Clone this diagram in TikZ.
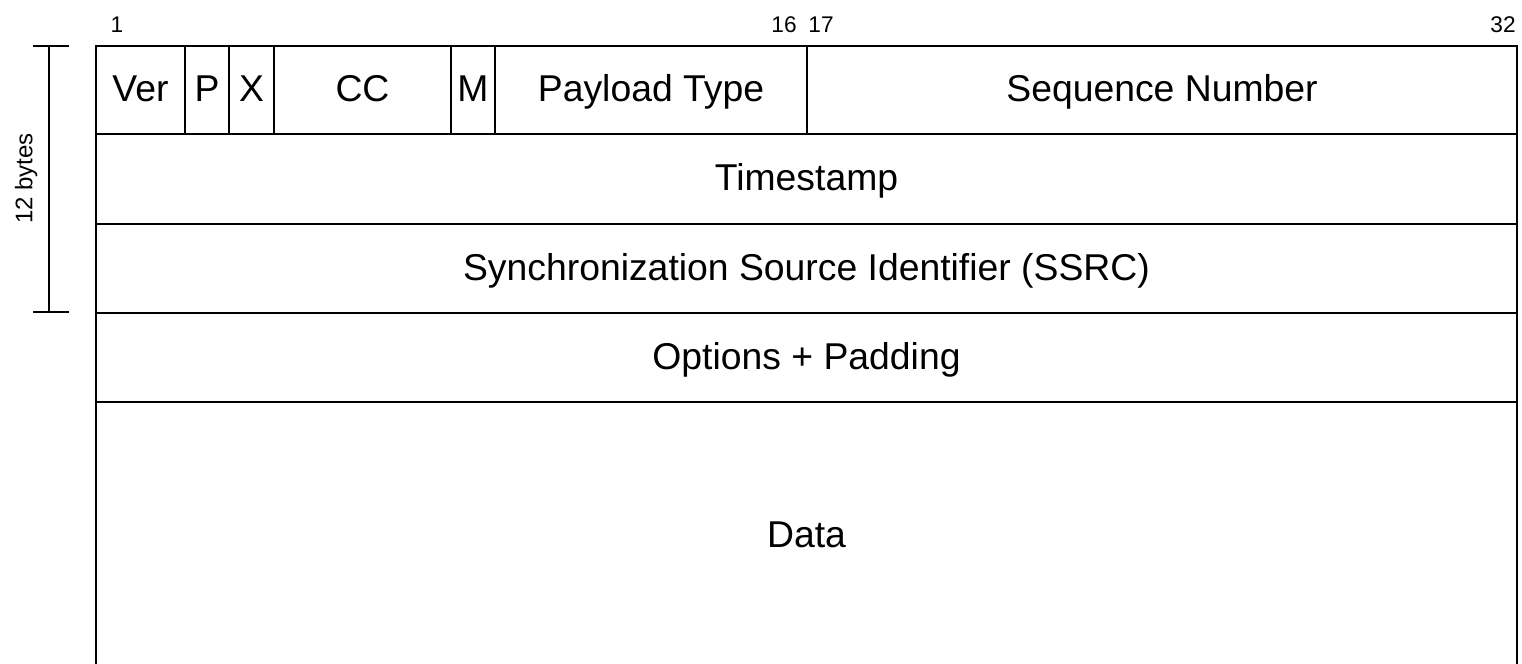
\documentclass[tikz,border=0pt]{standalone}
\usepackage{fontspec}
\setmainfont{Liberation Sans}
\usetikzlibrary{calc}
\begin{document}
\begin{tikzpicture}[x=0.75pt, y=-0.75pt,
  cell/.style 2 args={draw, line width=1.5pt, inner sep=0pt, outer sep=0pt,
    minimum width=#1, minimum height=#2,
    font=\fontsize{28}{32}\selectfont, text height=20pt, text depth=2.4pt},
  bitnum/.style={anchor=base, inner sep=0pt, font=\fontsize{17}{20}\selectfont},
  rule/.style={line width=1.5pt}]
  \useasboundingbox (0,0) rectangle (1522,664);

  % first 32-bit word: individual header fields
  \node[cell={66.75pt}{66pt}]  (ver)  at (140.5,90) {Ver};
  \node[cell={33pt}{66pt}]     (pad)  at (207,90)   {P};
  \node[cell={33.75pt}{66pt}]  (ext)  at (251.5,90) {X};
  \node[cell={132.75pt}{66pt}] (cc)   at (362.5,90) {CC};
  \node[cell={33pt}{66pt}]     (mark) at (473,90)   {M};
  \node[cell={234pt}{66pt}]    (pt)   at (651,90)   {Payload Type};
  \node[cell={532.5pt}{66pt}]  (seq)  at (1162,90)  {Sequence Number};

  % remaining words; the payload runs on below the page edge
  \node[cell={1065.75pt}{67.5pt}]  (ts)   at (806.5,179)   {Timestamp};
  \node[cell={1065.75pt}{66.75pt}] (ssrc) at (806.5,268.5) {Synchronization Source Identifier (SSRC)};
  \node[cell={1065.75pt}{66.75pt}] (opt)  at (806.5,357.5) {Options + Padding};
  \node[cell={1065.75pt}{200.25pt}] (data) at (806.5,535.5) {Data};

  % bit positions
  \node[bitnum] (b1)  at (117,32.5)  {1};
  \node[bitnum] (b16) at (784,32.5)  {16};
  \node[bitnum] (b17) at (821,32.5)  {17};
  \node[bitnum] (b32) at (1503,32.5) {32};

  % header size marker
  \coordinate (mtop) at (49,46);
  \coordinate (mbot) at (49,312);
  \draw[rule] (mtop) -- (mbot);
  \draw[rule] ($(mtop)+(-16,0)$) -- ($(mtop)+(20,0)$);
  \draw[rule] ($(mbot)+(-16,0)$) -- ($(mbot)+(20,0)$);
  \node[bitnum, rotate=90, font=\fontsize{18}{20}\selectfont] (hdr) at (32.3,178.5) {12 bytes};
\end{tikzpicture}
\end{document}
